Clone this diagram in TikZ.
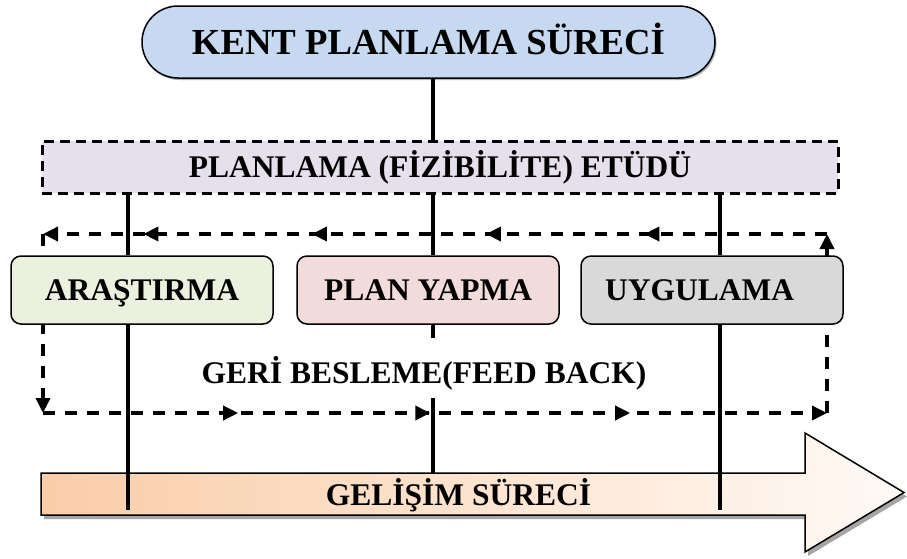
\documentclass[tikz,border=0pt]{standalone}
\usepackage{fontspec}
\setmainfont{Liberation Serif}
\usetikzlibrary{arrows.meta,decorations.markings,shadows}

\definecolor{pillblue}{RGB}{198,217,241}
\definecolor{etudlilac}{RGB}{229,224,236}
\definecolor{greenbox}{RGB}{235,241,222}
\definecolor{pinkbox}{RGB}{242,220,219}
\definecolor{graybox}{RGB}{217,217,217}
\definecolor{peachL}{RGB}{250,205,168}
\definecolor{peachR}{RGB}{255,250,246}

\begin{document}
\begin{tikzpicture}[x=1pt,y=-1pt,
  >={Triangle[length=15pt,width=14pt]},
  bigfont/.style={font=\fontsize{36.7}{40}\selectfont\bfseries},
  midfont/.style={font=\fontsize{31.5}{36}\selectfont\bfseries},
  stagebox/.style={draw, line width=1.5pt, rounded corners=10pt,
    minimum width=262pt, minimum height=68pt, inner sep=0pt,
    midfont, text height=21pt, text depth=0pt},
  solidline/.style={line width=4pt},
  fbline/.style={line width=3.5pt, dash pattern=on 12pt off 10pt},
  shade/.style={drop shadow={shadow xshift=3pt, shadow yshift=-4pt,
    fill=black, opacity=.35}}
]
\useasboundingbox (0,0) rectangle (907,558);

% development arrow along the bottom
\path[draw, line width=1.5pt, left color=peachL, right color=peachR, shade]
  (41,473) -- (805,473) -- (805,433) -- (904,492.5) -- (805,552)
  -- (805,515) -- (41,515) -- cycle;
\node[midfont, text height=21pt, text depth=0pt, inner sep=0pt]
  (gelisim) at (458.5,495) {GELİŞİM SÜRECİ};

% corner points of the feedback loop
\coordinate (fbTL) at (43,234);
\coordinate (fbTR) at (827,234);
\coordinate (fbBL) at (43,413);
\coordinate (fbBR) at (827,413);

% feedback loop: right to left on top, down, left to right below, up
\draw[fbline, ->, postaction={decorate}, decoration={markings,
    mark=at position .233 with {\arrow{>}},
    mark=at position .435 with {\arrow{>}},
    mark=at position .657 with {\arrow{>}},
    mark=at position .872 with {\arrow{>}}}]
  (fbTR) -- (fbTL);
\draw[fbline, ->] (fbTL) -- (fbBL);
\draw[fbline, ->, postaction={decorate}, decoration={markings,
    mark=at position .249 with {\arrow{>}},
    mark=at position .494 with {\arrow{>}},
    mark=at position .749 with {\arrow{>}}}]
  (fbBL) -- (fbBR);
\draw[fbline, ->] (fbBR) -- (fbTR);

% boxes
\node[draw, line width=1.5pt, fill=pillblue, rounded corners=36pt,
  minimum width=573pt, minimum height=72pt, inner sep=0pt, bigfont,
  text height=24.3pt, text depth=-6.6pt,
  drop shadow={shadow xshift=1.5pt, shadow yshift=-2pt, fill=black, opacity=.3}]
  (kent) at (428.5,42) {KENT PLANLAMA SÜRECİ};

\node[draw, line width=3pt, dash pattern=on 10pt off 6pt, fill=etudlilac,
  minimum width=796pt, minimum height=52pt, inner sep=0pt, midfont,
  text height=21pt, text depth=-7pt]
  (etud) at (440,167) {PLANLAMA (FİZİBİLİTE) ETÜDÜ};

\node[stagebox, fill=greenbox] (aras) at (142,290) {ARAŞTIRMA};
\node[stagebox, fill=pinkbox] (plan) at (428,290) {PLAN YAPMA};
\node[stagebox, fill=graybox] (uyg) at (712,290) {};
\node[midfont, text height=21pt, text depth=0pt, inner sep=0pt, anchor=west]
  (uygtext) at (605,290) {UYGULAMA};

\node[midfont, text height=21pt, text depth=0pt, inner sep=0pt]
  (geri) at (424,372.5) {GERİ BESLEME(FEED BACK)};

% vertical connectors
\coordinate (cL) at (128,0);
\coordinate (cM) at (433,0);
\coordinate (cR) at (720,0);
\coordinate (arrowtop) at (0,473);
\coordinate (arrowlow) at (0,510);
\coordinate (gapTop) at (433,338);
\coordinate (gapBot) at (433,398);

\draw[solidline] (kent.south -| cM) -- (etud.north -| cM);

\draw[solidline] (etud.south -| cL) -- (aras.north -| cL);
\draw[solidline] (aras.south -| cL) -- (cL |- arrowlow);

\draw[solidline] (etud.south -| cM) -- (plan.north -| cM);
\draw[solidline] (plan.south -| cM) -- (gapTop);
\draw[solidline] (gapBot) -- (cM |- arrowtop);

\draw[solidline] (etud.south -| cR) -- (uyg.north -| cR);
\draw[solidline] (uyg.south -| cR) -- (cR |- arrowlow);
\end{tikzpicture}
\end{document}
